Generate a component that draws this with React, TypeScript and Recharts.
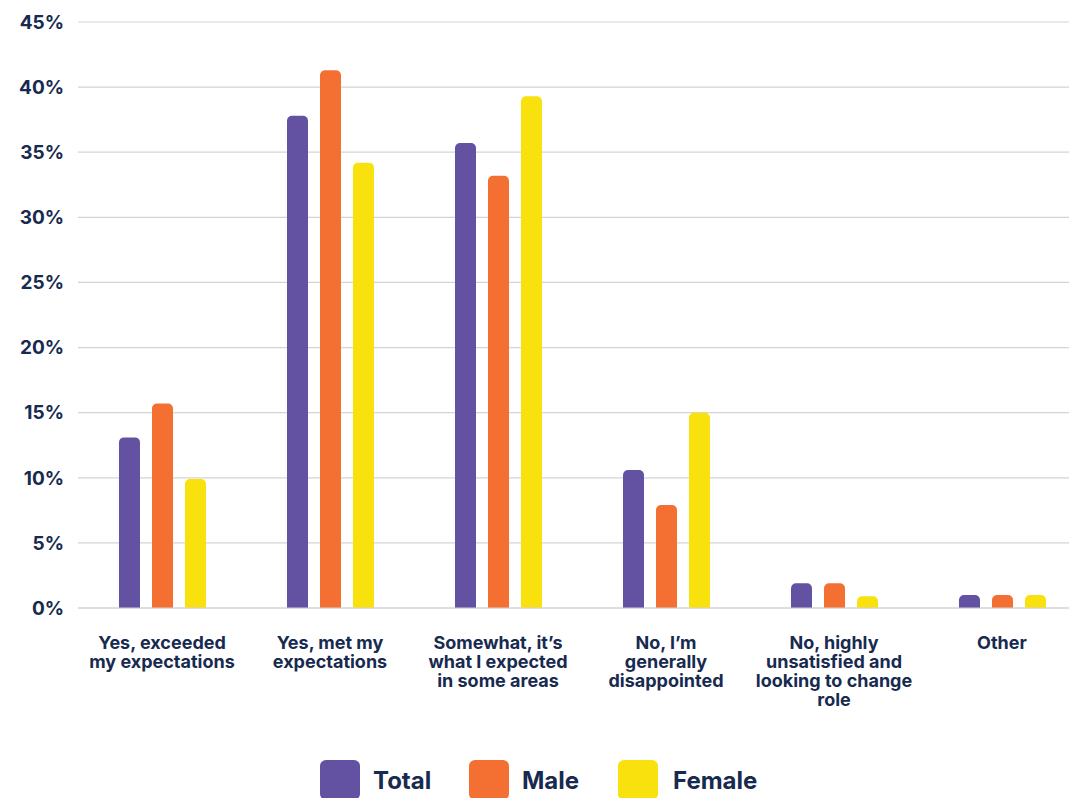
import { BarChart, Bar, XAxis, YAxis, CartesianGrid } from 'recharts';

const categories = [
  'Yes, exceeded\nmy expectations',
  'Yes, met my\nexpectations',
  'Somewhat, it’s\nwhat I expected\nin some areas',
  'No, I’m\ngenerally\ndisappointed',
  'No, highly\nunsatisfied and\nlooking to change\nrole',
  'Other',
];
const totalValues = [13.1, 37.8, 35.7, 10.6, 1.9, 1.0];
const maleValues = [15.7, 41.3, 33.2, 7.9, 1.9, 1.0];
const femaleValues = [9.9, 34.2, 39.3, 15.0, 0.9, 1.0];
const yTicks = [0, 5, 10, 15, 20, 25, 30, 35, 40, 45];

const seriesInfo = [
  { key: 'total', name: 'Total', color: '#6351a1' },
  { key: 'male', name: 'Male', color: '#f37032' },
  { key: 'female', name: 'Female', color: '#f9e10e' },
];

const data = categories.map((label, i) => ({
  label,
  total: totalValues[i],
  male: maleValues[i],
  female: femaleValues[i],
}));

const TEXT = '#172a4f';
const FONT = 'Inter, "Noto Sans", sans-serif';

const CategoryTick = ({ x, y, payload }: any) => {
  const lines = String(payload.value).split('\n');
  return (
    <text
      x={x}
      y={y}
      textAnchor="middle"
      fill={TEXT}
      fontFamily={FONT}
      fontWeight={700}
      fontSize={18}
    >
      {lines.map((line, i) => (
        <tspan key={i} x={x} y={y + 28 + i * 19} dominantBaseline="middle">
          {line}
        </tspan>
      ))}
    </text>
  );
};

export default function App() {
  return (
    <div style={{ position: 'relative', width: 1082, height: 800 }}>
      <BarChart
        width={1082}
        height={800}
        data={data}
        margin={{ top: 14, right: 4, left: 0, bottom: 80 }}
        barCategoryGap="24%"
        barGap={12}
      >
        <CartesianGrid vertical={false} stroke="#d4d4d4" strokeWidth={1.2} />
        <XAxis
          dataKey="label"
          height={120}
          interval={0}
          tickLine={false}
          axisLine={{ stroke: '#d4d4d4', strokeWidth: 1.2 }}
          tick={<CategoryTick />}
        />
        <YAxis
          width={70}
          domain={[0, 45]}
          ticks={yTicks}
          interval={0}
          tickLine={false}
          axisLine={false}
          tickSize={6}
          tickMargin={8}
          tickFormatter={(v: number) => `${v}%`}
          tick={{ fill: TEXT, fontFamily: FONT, fontWeight: 700, fontSize: 19 }}
        />
        {seriesInfo.map((s) => (
          <Bar
            key={s.key}
            dataKey={s.key}
            name={s.name}
            fill={s.color}
            barSize={21}
            radius={[5, 5, 0, 0]}
            isAnimationActive={false}
          />
        ))}
      </BarChart>
      <div
        style={{
          position: 'absolute',
          left: 312,
          top: 752,
          display: 'flex',
          alignItems: 'center',
          fontFamily: FONT,
          fontWeight: 700,
          fontSize: 24,
          color: TEXT,
        }}
      >
        {seriesInfo.map((s) => (
          <div key={s.key} style={{ display: 'flex', alignItems: 'center', width: 149 }}>
            <div
              style={{
                width: 40,
                height: 40,
                borderRadius: 6,
                background: s.color,
                marginRight: s.key === 'female' ? 15 : 13,
                flexShrink: 0,
              }}
            />
            <span>{s.name}</span>
          </div>
        ))}
      </div>
    </div>
  );
}
